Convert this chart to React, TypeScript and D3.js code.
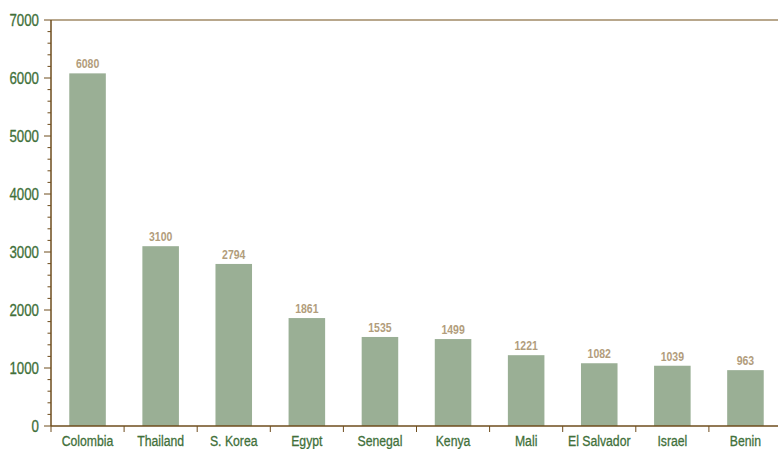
import React from "react";
import * as d3 from "d3";

const categories = ["Colombia", "Thailand", "S. Korea", "Egypt", "Senegal", "Kenya", "Mali", "El Salvador", "Israel", "Benin"];
const values = [6080, 3100, 2794, 1861, 1535, 1499, 1221, 1082, 1039, 963];
const yTicks = [0, 1000, 2000, 3000, 4000, 5000, 6000, 7000];

const W = 778, H = 449;
const left = 51, top = 20, bottom = 426;
const band = 73.1;
const right = left + band * categories.length;
const font = "'Liberation Sans', Arial, sans-serif";

function T({ x, y, sx, children, ...rest }: any) {
  return (
    <text transform={`translate(${x},${y}) scale(${sx},1)`} fontFamily={font} {...rest}>
      {children}
    </text>
  );
}

export default function App() {
  const x = d3.scaleBand<string>().domain(categories).range([left, right]).paddingInner(0.5).paddingOuter(0.25);
  const y = d3.scaleLinear().domain([0, 7000]).range([bottom, top]);
  const minor = d3.range(0, 7001, 200).filter((v) => v % 1000 !== 0);
  const boundaries = d3.range(0, categories.length + 1).map((i) => left + i * band);
  const green = "#41703a";
  return (
    <svg width={W} height={H} style={{ position: "absolute", left: 0, top: 0 }}>
      <rect width={W} height={H} fill="#fff" />
      <line x1={left} x2={W} y1={y(7000)} y2={y(7000)} stroke="#a08a66" strokeWidth={1.5} />
      {categories.map((c, i) => (
        <g key={c}>
          <rect x={x(c)} y={y(values[i])} width={x.bandwidth()} height={bottom - y(values[i])} fill="#9aaf95" />
          <T x={x(c)! + x.bandwidth() / 2} y={y(values[i]) - 5} sx={0.84} textAnchor="middle" fontWeight="bold" fontSize={12.5} fill="#b29d7c">{values[i]}</T>
          <T x={x(c)! + x.bandwidth() / 2} y={446} sx={0.79} textAnchor="middle" fontSize={15.5} fill={green} stroke={green} strokeWidth={0.3}>{c}</T>
        </g>
      ))}
      {boundaries.map((b, i) => (
        <line key={i} x1={b} x2={b} y1={bottom} y2={bottom + 6} stroke="#6e4c1c" strokeWidth={1} />
      ))}
      <line x1={left} x2={W} y1={bottom} y2={bottom} stroke="#6e4c1c" strokeWidth={1.5} />
      <line x1={left} x2={left} y1={top} y2={bottom} stroke="#6e4c1c" strokeWidth={1.5} />
      {minor.map((v) => (
        <line key={v} x1={left - 3.5} x2={left} y1={y(v)} y2={y(v)} stroke="#6e4c1c" strokeWidth={1} />
      ))}
      {yTicks.map((v) => (
        <g key={v}>
          <line x1={left - 7} x2={left} y1={y(v)} y2={y(v)} stroke="#6e4c1c" strokeWidth={1} />
          <T x={left - 12} y={y(v) + 5.5} sx={0.83} textAnchor="end" fontSize={16} fill={green} stroke={green} strokeWidth={0.3}>{v}</T>
        </g>
      ))}
    </svg>
  );
}
